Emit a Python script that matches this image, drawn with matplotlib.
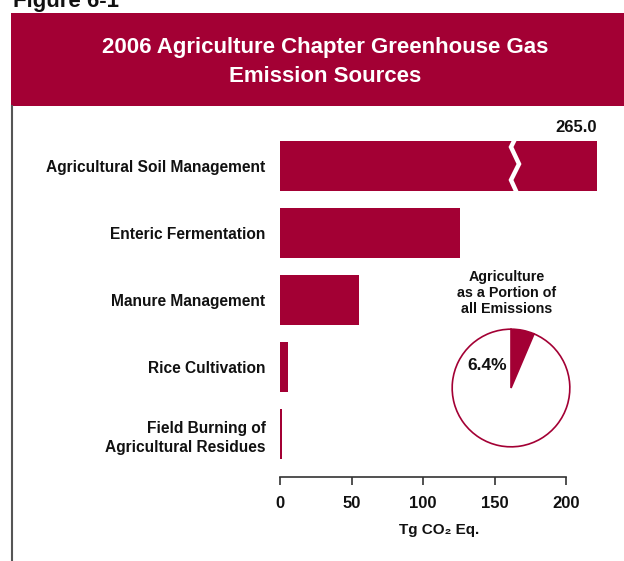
import numpy as np
import matplotlib
matplotlib.use("Agg")
import matplotlib.pyplot as plt
from matplotlib.patches import Rectangle
from matplotlib.lines import Line2D

# ---- data ----
categories = ["Agricultural Soil Management", "Enteric Fermentation",
              "Manure Management", "Rice Cultivation",
              "Field Burning of\nAgricultural Residues"]
emissions = [265.0, 126.2, 55.4, 5.9, 1.4]      # Tg CO2 Eq.
x_ticks = [0, 50, 100, 150, 200]
pie_share = [6.4, 93.6]                          # agriculture vs everything else
pie_label = "6.4%"

CRIMSON = "#a30034"
INK = "#111111"
FONT = ["Liberation Sans", "DejaVu Sans"]
plt.rcParams["font.family"] = FONT
plt.rcParams["font.weight"] = "bold"

W, H = 624, 561
fig = plt.figure(figsize=(W / 100, H / 100), dpi=100)


def fx(px):
    return px / W


def fy(py):
    return 1 - py / H


# header bar, frame line, figure number
fig.patches.append(Rectangle((fx(11), fy(106)), fx(W) - fx(11), fy(13) - fy(106),
                             transform=fig.transFigure, facecolor=CRIMSON,
                             edgecolor="none", zorder=0))
fig.lines.append(Line2D([fx(12), fx(12)], [fy(106), 0], transform=fig.transFigure,
                        color="#555555", lw=1.5))
fig.text(fx(13), fy(7), "Figure 6-1", fontsize=16, color=INK, va="baseline")
fig.text(fx(325), fy(62), "2006 Agriculture Chapter Greenhouse Gas\nEmission Sources",
         color="white", fontsize=16, ha="center", va="center", linespacing=1.45)

# ---- bar chart ----
px_per_unit = 286 / 200
x_max = (597 - 280) / px_per_unit
pitch = 67
ax = fig.add_axes([fx(280), fy(477), fx(597) - fx(280), (477 - 130) / H])
ypos = np.arange(len(categories))
shown = [min(v, x_max) for v in emissions]
ax.barh(ypos, shown, height=50 / pitch, color=CRIMSON, zorder=2)
ax.set_xlim(0, x_max)
ax.set_ylim(4 + (477 - 434) / pitch, -(166 - 130) / pitch)

# break marker on the oversized bar
for i, (v, s) in enumerate(zip(emissions, shown)):
    if v > s:
        bx = (513 - 280) / px_per_unit
        zx = np.array([1, -2, 6, -2, 3]) / px_per_unit + bx
        zy = np.array([-25, -19, -2, 14, 25]) / pitch + i
        ax.plot(zx, zy, color="white", lw=3.2, solid_joinstyle="miter", zorder=3)
        ax.text(s, i - (166 - 128) / pitch, f"{v:.1f}", ha="right", va="center",
                fontsize=12, color=INK)

for side in ["top", "right", "left"]:
    ax.spines[side].set_visible(False)
ax.spines["bottom"].set_bounds(0, 200)
ax.spines["bottom"].set_color("#333333")
ax.spines["bottom"].set_linewidth(1.2)
ax.set_xticks(x_ticks)
ax.set_xticklabels([str(t) for t in x_ticks], fontsize=12, color=INK)
ax.tick_params(axis="x", direction="out", length=6, width=1.2, color="#333333", pad=8)
ax.set_yticks(ypos)
ax.set_yticklabels(categories, fontsize=11.2, color=INK, ha="right",
                   multialignment="right", linespacing=1.4)
ax.tick_params(axis="y", length=0, pad=10.5)
fig.text(fx(439), fy(530), "Tg CO\u2082 Eq.", fontsize=11, color=INK,
         ha="center", va="center")

# ---- inset pie ----
r = 60
pax = fig.add_axes([fx(511 - r), fy(388 + r), 2 * r / W, 2 * r / H])
pax.pie(pie_share, colors=[CRIMSON, "white"], startangle=90, counterclock=False,
        wedgeprops=dict(edgecolor=CRIMSON, linewidth=1.2))
pax.set_xlim(-1.02, 1.02)
pax.set_ylim(-1.02, 1.02)
pax.set_aspect("equal")
fig.text(fx(507), fy(366), pie_label, fontsize=12.5, color=INK, ha="right", va="center")
fig.text(fx(507), fy(293), "Agriculture\nas a Portion of\nall Emissions",
         fontsize=10.3, color=INK, ha="center", va="center", linespacing=1.2)

fig.savefig("out.png", dpi=100, facecolor="white")
